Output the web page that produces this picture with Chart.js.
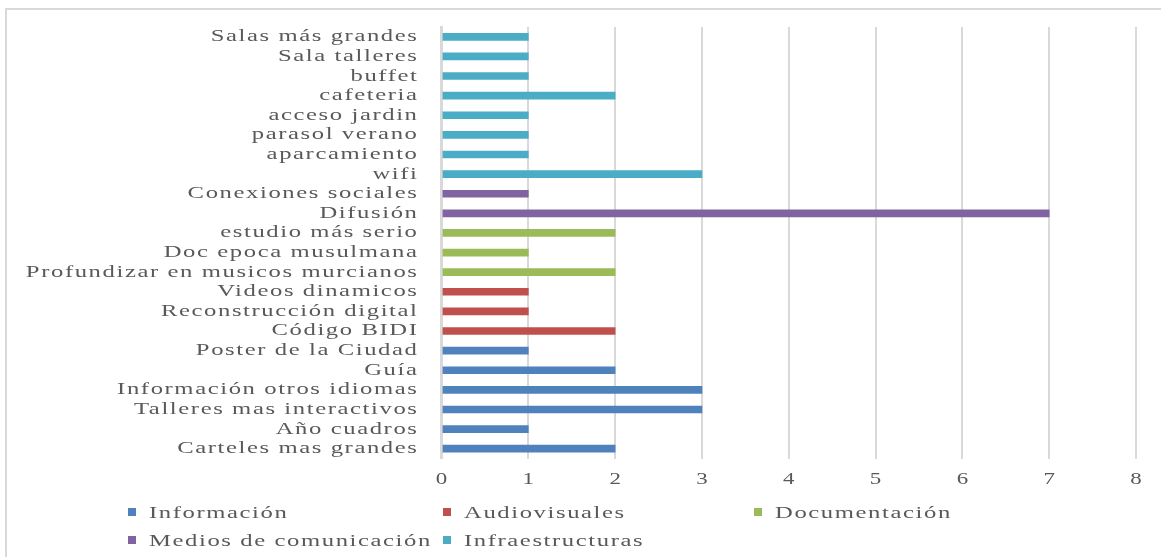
<!DOCTYPE html>
<html>
<head>
<meta charset="utf-8">
<script src="https://cdn.jsdelivr.net/npm/chart.js@4/dist/chart.umd.min.js"></script>
<style>
  html, body { margin: 0; padding: 0; background: #ffffff; overflow: hidden; }
  #wrap { position: relative; width: 1161px; height: 557px; overflow: hidden; }
  #frame { position: absolute; left: 5px; top: 8px; width: 1300px; height: 700px;
           border: 2.5px solid #d9d9d9; box-sizing: border-box; }
  #c { position: absolute; left: 0; top: 0; }
  .lg-item { position: absolute; height: 20px; white-space: nowrap; }
  .lg-box { position: absolute; left: 0; width: 8px; height: 7.5px; }
  .lg-text { position: absolute; left: 21px; top: 0; line-height: 20px;
             font-family: 'Liberation Serif', 'Times New Roman', serif; font-size: 17px;
             color: #595959; letter-spacing: 1.1px; display: inline-block;
             transform: scaleX(1.45); transform-origin: 0 50%; }
</style>
</head>
<body>
<div id="wrap">
  <div id="frame"></div>
  <canvas id="c" width="1161" height="557"></canvas>
  <div id="legend"></div>
</div>
<script>
// ---- data ----
const categories = [
  "Salas más grandes", "Sala talleres", "buffet", "cafeteria", "acceso jardin",
  "parasol verano", "aparcamiento", "wifi", "Conexiones sociales", "Difusión",
  "estudio más serio", "Doc epoca musulmana", "Profundizar en musicos murcianos",
  "Videos dinamicos", "Reconstrucción digital", "Código BIDI", "Poster de la Ciudad",
  "Guía", "Información otros idiomas", "Talleres mas interactivos", "Año cuadros",
  "Carteles mas grandes"
];
const seriesNames = ["Información", "Audiovisuales", "Documentación", "Medios de comunicación", "Infraestructuras"];
const seriesColors = ["#4F81BD", "#C0504D", "#9BBB59", "#8064A2", "#4BACC6"];
const informacion      = [null,null,null,null,null,null,null,null,null,null,null,null,null,null,null,null,1,2,3,3,1,2];
const audiovisuales    = [null,null,null,null,null,null,null,null,null,null,null,null,null,1,1,2,null,null,null,null,null,null];
const documentacion    = [null,null,null,null,null,null,null,null,null,null,2,1,2,null,null,null,null,null,null,null,null,null];
const medios           = [null,null,null,null,null,null,null,null,1,7,null,null,null,null,null,null,null,null,null,null,null,null];
const infraestructuras = [1,1,1,2,1,1,1,3,null,null,null,null,null,null,null,null,null,null,null,null,null,null];
const xTickLabels = ["0","1","2","3","4","5","6","7","8"];

const seriesValues = [informacion, audiovisuales, documentacion, medios, infraestructuras];

// ---- style ----
const FONT = "'Liberation Serif', 'Times New Roman', serif";
const TEXT = "#595959";
const GRID = "#d9d9d9";
const SX = 1.45;      // horizontal stretch of category labels
const LS = 1.1;       // letter spacing of category labels
const Y_PAD = 23;
const X_SX = 1.35;    // horizontal stretch of value tick labels

const stretchLabels = {
  id: 'stretchLabels',
  afterUpdate(chart) {
    const sc = chart.scales.y;
    if (sc && !sc._stretched) {
      sc._stretched = true;
      const orig = sc.drawLabels.bind(sc);
      sc.drawLabels = function (area) {
        const ctx = this.ctx;
        const x0 = this.right - this.options.ticks.padding;
        ctx.save();
        ctx.translate(x0, 0);
        ctx.scale(SX, 1);
        ctx.translate(-x0, 0);
        ctx.letterSpacing = LS + 'px';
        orig(area);
        ctx.restore();
      };
    }
    const xs = chart.scales.x;
    if (xs && !xs._stretched) {
      xs._stretched = true;
      xs.drawLabels = function (area) {
        const ctx = this.ctx;
        const items = this.getLabelItems(area);
        for (const item of items) {
          const [tx, ty] = item.options.translation;
          ctx.save();
          ctx.translate(tx, ty);
          ctx.scale(X_SX, 1);
          ctx.font = item.font.string;
          ctx.fillStyle = item.options.color;
          ctx.textAlign = 'center';
          ctx.textBaseline = item.options.textBaseline || 'middle';
          ctx.fillText(item.label, 0, item.textOffset);
          ctx.restore();
        }
      };
    }
  }
};

const datasets = seriesNames.map((name, i) => ({
  label: name,
  data: seriesValues[i],
  backgroundColor: seriesColors[i],
  borderWidth: 0,
  barThickness: 7,
  skipNull: true
}));

new Chart(document.getElementById('c'), {
  type: 'bar',
  data: { labels: categories, datasets },
  options: {
    indexAxis: 'y',
    responsive: false,
    animation: false,
    layout: { padding: { left: 0, right: 25, top: 27, bottom: 0 } },
    plugins: { legend: { display: false }, tooltip: { enabled: false } },
    scales: {
      x: {
        stacked: true,
        min: 0, max: 8,
        ticks: {
          stepSize: 1,
          padding: 10.5,
          color: TEXT,
          font: { family: FONT, size: 17 },
          callback: (v, i) => xTickLabels[i]
        },
        grid: { color: GRID, lineWidth: 2, drawTicks: false },
        border: { display: false },
        afterFit: (s) => { s.height = 98.5; s.paddingLeft = 0; s.paddingRight = 0; }
      },
      y: {
        stacked: true,
        ticks: {
          padding: Y_PAD,
          color: TEXT,
          autoSkip: false,
          font: { family: FONT, size: 17 }
        },
        grid: { display: false, drawTicks: false },
        border: { display: true, color: GRID, width: 2.5, z: 1 },
        afterFit: (s) => { s.width = 441.5; s.paddingTop = 0; s.paddingBottom = 0; }
      }
    }
  },
  plugins: [stretchLabels]
});

// ---- legend (HTML) ----
const legendCols = [128, 443, 754];
const legendRows = [502.5, 530.8];
const legend = document.getElementById('legend');
seriesNames.forEach((name, i) => {
  const col = i % 3, row = Math.floor(i / 3);
  const item = document.createElement('div');
  item.className = 'lg-item';
  item.style.left = legendCols[col] + 'px';
  item.style.top = legendRows[row] + 'px';
  const box = document.createElement('div');
  box.className = 'lg-box';
  box.style.background = seriesColors[i];
  box.style.top = '5.5px';
  const txt = document.createElement('span');
  txt.className = 'lg-text';
  txt.textContent = name;
  item.appendChild(box);
  item.appendChild(txt);
  legend.appendChild(item);
});
</script>
</body>
</html>
